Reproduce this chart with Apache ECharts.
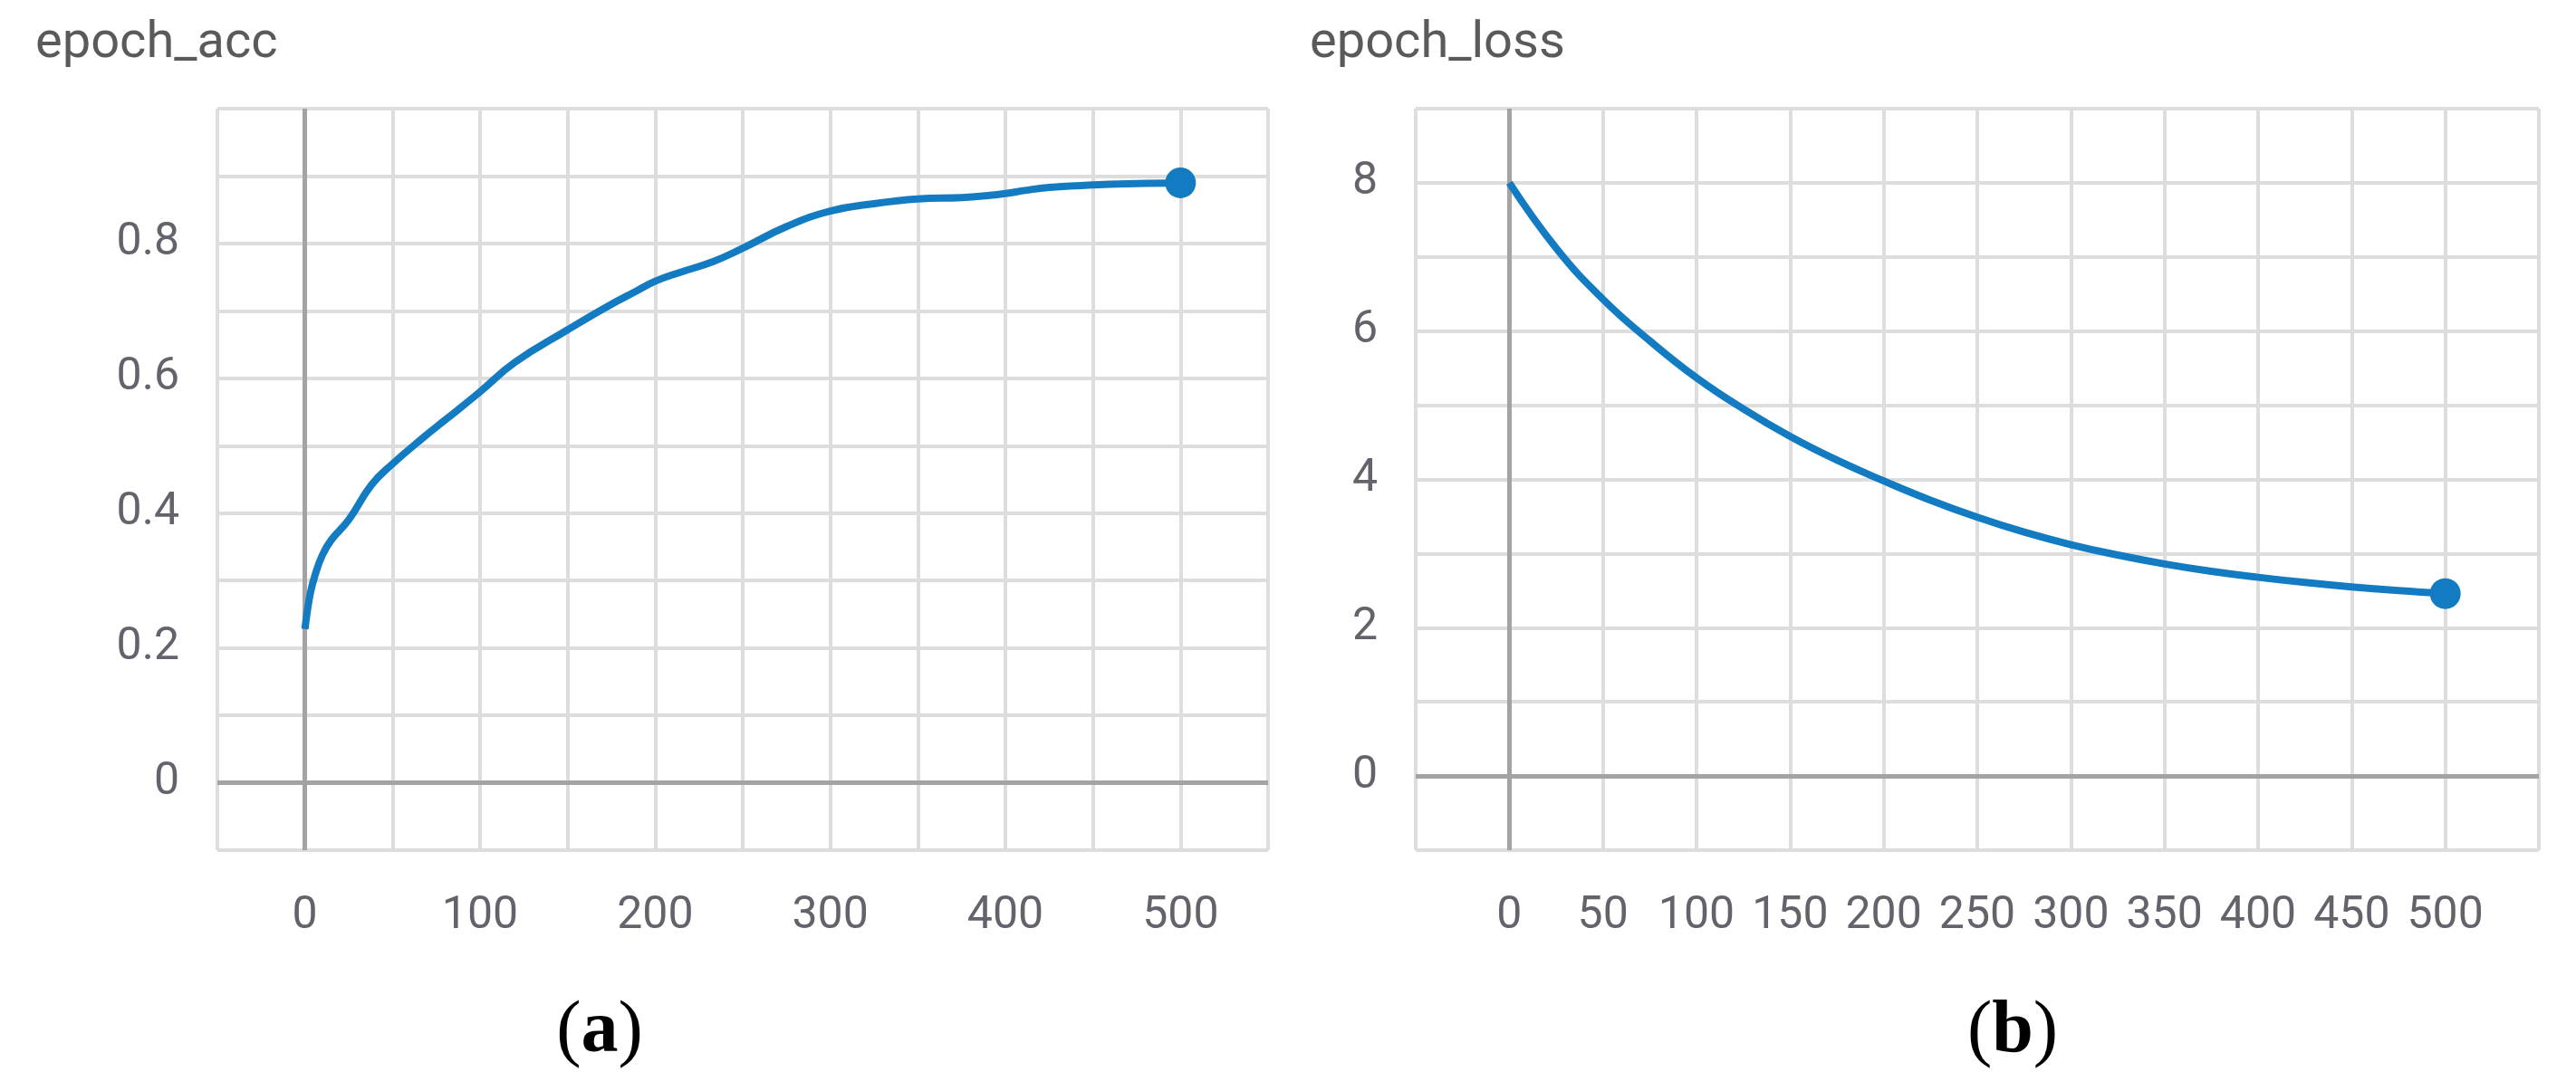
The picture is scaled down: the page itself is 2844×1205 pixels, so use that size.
<!DOCTYPE html>
<html>
<head>
<meta charset="utf-8">
<script src="https://cdn.jsdelivr.net/npm/echarts@6/dist/echarts.min.js"></script>
<style>
  html, body { margin: 0; padding: 0; background: #ffffff; }
  #chart { width: 2844px; height: 1205px; }
</style>
</head>
<body>
<div id="chart"></div>
<script>
// ---- Data ----
const accTitle = 'epoch_acc';
const lossTitle = 'epoch_loss';
const panelLabels = ['a', 'b'];

const accEpochs = [0, 3, 6, 10, 15, 25, 38, 50, 68, 80, 100, 120, 150, 173, 189, 200, 214, 233, 250, 275, 300, 325, 350, 375, 390, 400, 412, 425, 450, 475, 500];
const accValues = [0.228, 0.28, 0.31, 0.338, 0.36, 0.39, 0.442, 0.473, 0.513, 0.538, 0.58, 0.624, 0.672, 0.707, 0.729, 0.744, 0.757, 0.773, 0.793, 0.825, 0.848, 0.859, 0.866, 0.868, 0.871, 0.874, 0.879, 0.883, 0.887, 0.889, 0.890];

const lossEpochs = [0, 25, 50, 75, 100, 125, 150, 175, 200, 225, 250, 275, 300, 325, 350, 375, 400, 425, 450, 475, 500];
const lossValues = [8.00, 7.12, 6.43, 5.87, 5.37, 4.95, 4.58, 4.26, 3.98, 3.72, 3.49, 3.29, 3.12, 2.98, 2.86, 2.76, 2.68, 2.61, 2.55, 2.50, 2.46];

const accYTicks = ['0', '0.2', '0.4', '0.6', '0.8'];
const lossYTicks = ['0', '2', '4', '6', '8'];
const accXStep = 100;   // labelled every 100
const lossXStep = 50;   // labelled every 50

// ---- Styles ----
const lineColor = '#137bc2';
const gridColor = '#dddddd';
const zeroColor = '#a3a3a3';
const labelColor = '#63636b';
const fontFamily = 'Roboto, "Liberation Sans", sans-serif';

function buildData(xs, ys) {
  return xs.map((x, i) => {
    if (i === xs.length - 1) {
      return { value: [x, ys[i]], symbol: 'circle', symbolSize: 34 };
    }
    return [x, ys[i]];
  });
}

function xAxisFor(gridIndex, step) {
  return {
    type: 'value', gridIndex: gridIndex, min: -50, max: 550, interval: 50,
    axisLine: { show: false },
    axisTick: { show: true, length: 22, lineStyle: { color: gridColor, width: 4 } },
    splitLine: { show: true, lineStyle: { color: gridColor, width: 4 } },
    axisLabel: {
      margin: 48, color: labelColor, fontSize: 50, fontFamily: fontFamily,
      formatter: v => (v >= 0 && v <= 500 && v % step === 0) ? String(v) : ''
    }
  };
}

function yAxisFor(gridIndex, min, max, interval, labels) {
  return {
    type: 'value', gridIndex: gridIndex, min: min, max: max, interval: interval,
    axisLine: { show: false },
    axisTick: { show: true, length: 22, lineStyle: { color: gridColor, width: 4 } },
    splitLine: { show: true, lineStyle: { color: gridColor, width: 4 } },
    axisLabel: {
      margin: 42, color: labelColor, fontSize: 50, fontFamily: fontFamily,
      formatter: v => {
        const s = String(Math.round(v * 10) / 10);
        return labels.indexOf(s) >= 0 ? s : '';
      }
    }
  };
}

function seriesFor(idx, xs, ys) {
  return {
    type: 'line', xAxisIndex: idx, yAxisIndex: idx,
    data: buildData(xs, ys),
    smooth: 0.45,
    symbol: 'none',
    showSymbol: true,
    lineStyle: { color: lineColor, width: 8 },
    itemStyle: { color: lineColor },
    z: 5,
    markLine: {
      silent: true, symbol: 'none', label: { show: false },
      lineStyle: { color: zeroColor, width: 5, type: 'solid' },
      data: [{ xAxis: 0 }, { yAxis: 0 }],
      z: 3
    }
  };
}

const serif = '"Liberation Serif", "DejaVu Serif", serif';
function panelLabel(x, letter) {
  return { type: 'text', x: x, y: 1140, style: {
      text: '{p|(}{b|' + letter + '}{p|)}', align: 'center', verticalAlign: 'middle',
      rich: {
        p: { fontFamily: serif, fontSize: 82, fill: '#000' },
        b: { fontFamily: serif, fontSize: 82, fontWeight: 'bold', fill: '#000' }
      } } };
}

const chart = echarts.init(document.getElementById('chart'), null, { renderer: 'canvas' });
chart.setOption({
  backgroundColor: '#ffffff',
  animation: false,
  title: [
    { text: accTitle, left: 34, top: 16, textStyle: { fontFamily: fontFamily, fontSize: 56, fontWeight: 'normal', color: '#5a5a5a' } },
    { text: lossTitle, left: 1441, top: 16, textStyle: { fontFamily: fontFamily, fontSize: 56, fontWeight: 'normal', color: '#5a5a5a' } }
  ],
  grid: [
    { left: 240, top: 120, width: 1160, height: 819 },
    { left: 1563, top: 120, width: 1240, height: 819 }
  ],
  xAxis: [xAxisFor(0, accXStep), xAxisFor(1, lossXStep)],
  yAxis: [
    yAxisFor(0, -0.1, 1.0, 0.1, accYTicks),
    yAxisFor(1, -1, 9, 1, lossYTicks)
  ],
  series: [
    seriesFor(0, accEpochs, accValues),
    seriesFor(1, lossEpochs, lossValues)
  ],
  graphic: [panelLabel(662, panelLabels[0]), panelLabel(2222, panelLabels[1])]
});
</script>
</body>
</html>
